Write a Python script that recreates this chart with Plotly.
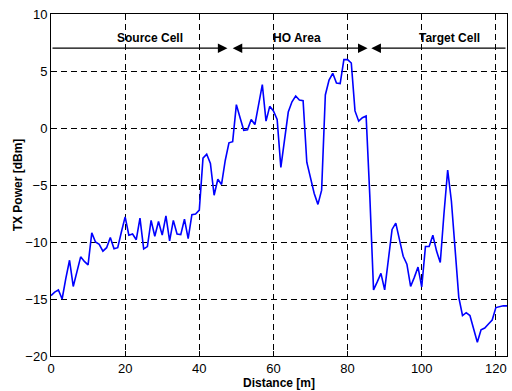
import plotly.graph_objects as go

distance = list(range(0, 124))
tx_power = [
    -14.7, -14.4, -14.2, -15.0, -13.2, -11.6, -13.9, -12.5, -11.3, -11.7,
    -12.0, -9.2, -10.0, -10.2, -10.8, -10.5, -9.6, -10.6, -10.5, -9.1,
    -7.8, -9.4, -9.3, -9.8, -7.9, -10.6, -10.4, -8.1, -9.5, -8.2,
    -9.4, -7.7, -9.9, -8.1, -9.3, -9.35, -8.0, -9.7, -7.6, -7.55,
    -7.2, -2.65, -2.3, -3.1, -5.9, -4.5, -4.95, -2.85, -1.3, -1.2,
    2.05, 0.9, -0.2, -0.15, 0.75, 0.3, 2.2, 3.8, 0.6, 1.9,
    1.5, 0.75, -3.45, -1.2, 1.4, 2.3, 2.8, 2.45, 2.4, -3.0,
    -4.4, -5.75, -6.7, -5.45, 2.9, 4.2, 4.8, 3.95, 3.9, 6.0,
    6.0, 5.7, 1.5, 0.6, 0.9, 1.05, -6.0, -14.2, -13.5, -12.75,
    -14.2, -11.5, -8.9, -8.35, -9.95, -11.25, -11.95, -13.9, -13.1, -12.2,
    -13.95, -10.4, -10.4, -9.4, -10.8, -11.8, -7.5, -3.7, -6.4, -10.5,
    -14.85, -16.45, -16.2, -16.45, -17.6, -18.8, -17.7, -17.55, -17.2, -16.85,
    -15.75, -15.65, -15.6, -15.6,
]

x_ticks = [0, 20, 40, 60, 80, 100, 120]
y_ticks = [-20, -15, -10, -5, 0, 5, 10]

region_labels = ["Source Cell", "HO Area", "Target Cell"]
region_label_x = [26.7, 66.3, 107.6]
arrow_level = 7
region_bounds = [0, 47.6, 48.6, 85.4, 86.4, 123]

fig = go.Figure()
fig.add_trace(go.Scatter(
    x=distance, y=tx_power, mode="lines",
    line=dict(color="#0000ff", width=1.6), showlegend=False,
))

annotations = []
for lab, lx in zip(region_labels, region_label_x):
    annotations.append(dict(
        x=lx, y=arrow_level, xref="x", yref="y", text="<b>" + lab + "</b>",
        showarrow=False, yanchor="bottom", yshift=1,
        font=dict(family="Liberation Sans, Arial", size=12, color="black"),
    ))

arrow_common = dict(xref="x", yref="y", axref="x", ayref="y", text="",
                    showarrow=True, arrowhead=2, arrowsize=1.6,
                    arrowwidth=1.2, arrowcolor="black",
                    y=arrow_level, ay=arrow_level, standoff=0, startstandoff=0)
annotations.append(dict(arrow_common, x=region_bounds[1], ax=region_bounds[0]))
annotations.append(dict(arrow_common, x=region_bounds[3], ax=region_bounds[2],
                        arrowside="end+start"))
annotations.append(dict(arrow_common, x=region_bounds[4], ax=region_bounds[5]))

axis_common = dict(
    showline=True, linecolor="black", linewidth=1, mirror="ticks",
    ticks="inside", ticklen=5, tickcolor="black",
    showgrid=True, gridcolor="black", gridwidth=1, griddash="6px,4px",
    zeroline=False,
    tickfont=dict(family="Liberation Sans, Arial", size=13, color="black"),
)

fig.update_layout(
    width=512, height=391,
    margin=dict(l=51, r=4, t=14, b=32),
    paper_bgcolor="white", plot_bgcolor="white",
    annotations=annotations,
    xaxis=dict(axis_common, range=[0, 123], tickvals=x_ticks,
               title=dict(text="<b>Distance [m]</b>", standoff=3,
                          font=dict(family="Liberation Sans, Arial", size=12, color="black"))),
    yaxis=dict(axis_common, range=[-20, 10], tickvals=y_ticks,
               title=dict(text="<b>TX Power [dBm]</b>", standoff=0,
                          font=dict(family="Liberation Sans, Arial", size=12, color="black"))),
)

fig.write_html(
    "out.html",
    config={"displayModeBar": False},
    post_script="document.body.style.margin='0';document.body.style.overflow='hidden';",
)
